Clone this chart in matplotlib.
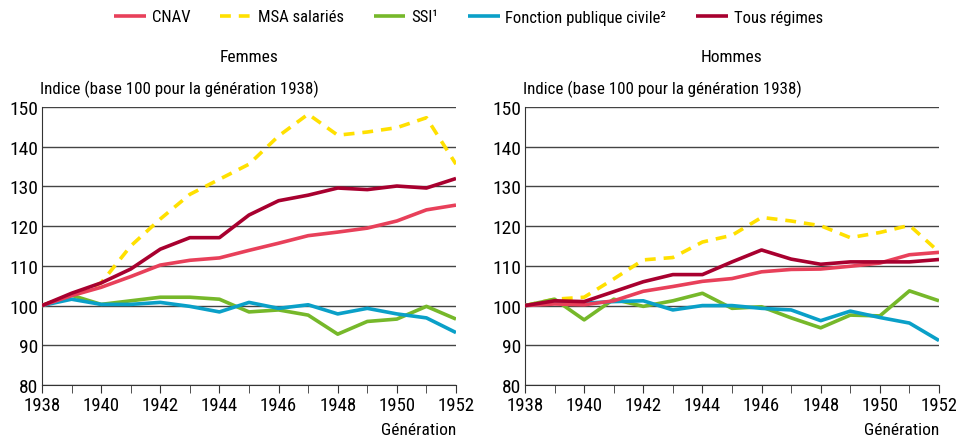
import matplotlib
matplotlib.use("Agg")
import matplotlib.pyplot as plt
from matplotlib import font_manager

names = {f.name for f in font_manager.fontManager.ttflist}
fam = "Lato"
for cand in ["Liberation Sans Narrow", "Roboto Condensed", "Open Sans Condensed", "Lato"]:
    if cand in names:
        fam = cand
        break
plt.rcParams['font.family'] = [fam, 'DejaVu Sans']

years = list(range(1938, 1953))
series = ["CNAV", "MSA salariés", "SSI¹", "Fonction publique civile²", "Tous régimes"]

# Femmes
f_cnav = [100, 102.5, 104.6, 107.3, 110.2, 111.4, 112.0, 113.9, 115.7, 117.6, 118.5, 119.5, 121.3, 124.1, 125.3]
f_msa = [100, 102.5, 105.7, 115.0, 121.8, 128.0, 131.8, 135.6, 142.7, 148.2, 142.9, 143.7, 144.8, 147.3, 135.6]
f_ssi = [100, 102.6, 100.3, 101.2, 102.1, 102.1, 101.6, 98.4, 98.9, 97.6, 92.8, 96.0, 96.6, 99.8, 96.6]
f_fp = [100, 101.6, 100.3, 100.3, 100.8, 99.8, 98.4, 100.8, 99.3, 100.2, 97.9, 99.3, 97.9, 96.9, 93.2]
f_tous = [100, 103.1, 105.7, 109.2, 114.2, 117.1, 117.1, 122.8, 126.4, 127.8, 129.6, 129.2, 130.1, 129.6, 132.0]

# Hommes
h_cnav = [100, 100.4, 100.2, 101.2, 103.6, 104.8, 106.1, 106.8, 108.5, 109.1, 109.2, 109.9, 110.7, 112.8, 113.4]
h_msa = [100, 101.6, 102.1, 106.7, 111.5, 112.1, 116.0, 117.7, 122.2, 121.3, 120.1, 117.1, 118.4, 120.2, 113.5]
h_ssi = [100, 101.6, 96.4, 101.6, 99.8, 101.2, 103.1, 99.3, 99.7, 96.9, 94.4, 97.6, 97.4, 103.7, 101.2]
h_fp = [100, 100.6, 100.6, 101.0, 101.2, 98.9, 100.0, 100.0, 99.3, 98.9, 96.2, 98.6, 97.0, 95.6, 91.2]
h_tous = [100, 101.2, 101.0, 103.5, 106.0, 107.8, 107.8, 111.0, 114.0, 111.7, 110.4, 111.0, 111.0, 111.0, 111.6]

panels = [("Femmes", [f_cnav, f_msa, f_ssi, f_fp, f_tous]),
          ("Hommes", [h_cnav, h_msa, h_ssi, h_fp, h_tous])]

colors = ["#E8405A", "#FFE000", "#76B82A", "#0AA0C8", "#A8002F"]
styles = ["-", "--", "-", "-", "-"]

fig = plt.figure(figsize=(9.56, 4.39), dpi=100)
W, H = 956, 439
boxes = [(42, 108, 456, 386), (525, 108, 939, 386)]

handles = None
for (title, data), (x0, y0, x1, y1) in zip(panels, boxes):
    ax = fig.add_axes([x0 / W, 1 - y1 / H, (x1 - x0) / W, (y1 - y0) / H])
    lines = {}
    for i in [1, 2, 3, 0, 4]:
        ln, = ax.plot(years, data[i], color=colors[i], ls=styles[i], lw=2.6,
                      dashes=(3, 2.2) if styles[i] == "--" else (None, None),
                      solid_capstyle="butt", label=series[i], zorder=3)
        lines[i] = ln
    handles = [lines[i] for i in range(5)]
    ax.set_xlim(1938, 1952)
    ax.set_ylim(80, 150)
    ax.set_yticks(range(80, 151, 10))
    ax.set_xticks(range(1938, 1953, 2))
    ax.set_xticks(range(1938, 1953), minor=True)
    ax.yaxis.grid(True, color="#444444", lw=1)
    ax.set_axisbelow(True)
    for s in ["top", "right"]:
        ax.spines[s].set_visible(False)
    ax.spines["left"].set_color("#333333")
    ax.spines["bottom"].set_color("#333333")
    ax.tick_params(axis="y", length=0, labelsize=14, pad=3)
    ax.tick_params(axis="x", which="both", length=6, direction="out", color="#333333",
                   labelsize=13.5, pad=2)
    fig.text((x0 + x1) / 2 / W, 1 - 58 / H, title, ha="center", va="center", fontsize=12.5)
    fig.text((x0 - 2) / W, 1 - 89 / H, "Indice (base 100 pour la génération 1938)",
             ha="left", va="center", fontsize=12.2)
    fig.text(x1 / W, 1 - 431 / H, "Génération", ha="right", va="center", fontsize=12.5)

fig.legend(handles=handles, loc="center", bbox_to_anchor=(0.49, 1 - 18 / H), ncol=5,
           frameon=False, fontsize=12, handlelength=1.9, columnspacing=1.8,
           handletextpad=0.35)

fig.savefig("out.png", dpi=100)
